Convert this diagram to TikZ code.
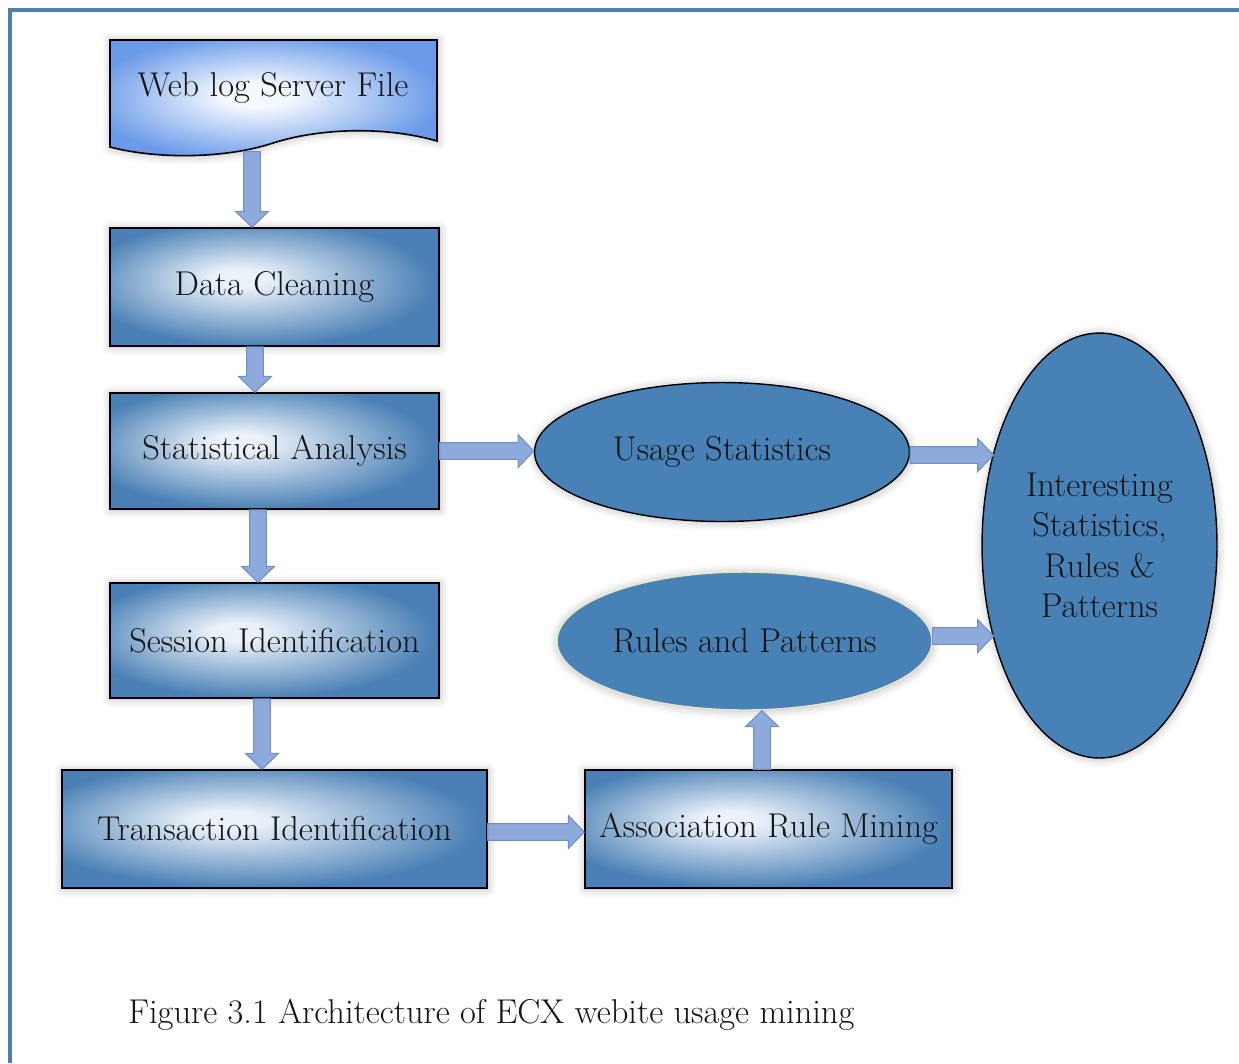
\documentclass[tikz,border=0pt]{standalone}
\usetikzlibrary{shapes.geometric,calc,shadows.blur}
\definecolor{framec}{HTML}{4F7DB0}
\definecolor{boxout}{HTML}{4A80B5}
\definecolor{boxin}{HTML}{EAF1F9}
\definecolor{docout}{HTML}{6A9AE8}
\definecolor{docin}{HTML}{F4F8FF}
\definecolor{ellc}{HTML}{4781B6}
\definecolor{arrfill}{HTML}{8EAADC}
\definecolor{arrdraw}{HTML}{6F8FC6}
\definecolor{rpborder}{HTML}{E6E6C8}
\definecolor{txtc}{HTML}{151515}
\pgfdeclareradialshading{boxsh}{\pgfpoint{-6bp}{4bp}}{color(0bp)=(boxin); color(4bp)=(boxin); color(27bp)=(boxout); color(50bp)=(boxout)}
\pgfdeclareradialshading{docsh}{\pgfpoint{-3bp}{2bp}}{color(0bp)=(docin); color(5bp)=(docin); color(27bp)=(docout); color(50bp)=(docout)}
\newcommand\blockarrow[2]{%
  \path #1 coordinate (ba1) #2 coordinate (ba2);
  \filldraw[barrow] let \p1=($(ba2)-(ba1)$), \n1={atan2(\y1,\x1)}, \n2={veclen(\x1,\y1)} in
    [shift={(ba1)}, rotate=\n1]
    (0pt,-4.8pt) -- ({\n2-9pt},-4.8pt) -- ({\n2-9pt},-9.4pt) -- ({\n2+0pt},0pt)
    -- ({\n2-9pt},9.4pt) -- ({\n2-9pt},4.8pt) -- (0pt,4.8pt) -- cycle;}
\tikzset{
  txt/.style={font=\fontsize{19.6}{23}\selectfont, text=txtc},
  shadowed/.style={blur shadow={shadow xshift=0.4pt, shadow yshift=-0.4pt, shadow blur radius=5pt, shadow opacity=30}},
  boxnode/.style={txt, rectangle, draw=black, line width=0.9pt, shade, shading=boxsh, inner sep=0pt, shadowed},
  ellnode/.style={txt, ellipse, fill=ellc, draw=black, line width=0.8pt, inner sep=0pt, shadowed},
  barrow/.style={fill=arrfill, draw=arrdraw, line width=0.6pt, line join=miter},
  framestyle/.style={draw=framec, line width=1.8pt}
}
\begin{document}
\begin{tikzpicture}[x=0.02cm, y=-0.02cm]
\useasboundingbox (0,0) rectangle (1239,1063);
\draw[framestyle] (10,1063) -- (10,10) -- (1239,10);

% document shape
\node[inner sep=0pt, minimum width=6.54cm, minimum height=2.30cm] (web) at (273.5,97.5) {};
\shadedraw[shading=docsh, draw=black, line width=0.9pt, shadowed]
  (110,40) -- (437,40) -- (437,141)
  .. controls (385,126) and (320,128) .. (273,143)
  .. controls (228,158) and (160,160) .. (110,147) -- cycle;
\node[txt] (webt) at (273,88) {Web log Server File};

\node[boxnode, minimum width=6.58cm, minimum height=2.36cm] (dc) at (274.5,287) {Data Cleaning};
\node[boxnode, minimum width=6.58cm, minimum height=2.32cm] (sa) at (274.5,451) {Statistical Analysis};
\node[boxnode, minimum width=6.58cm, minimum height=2.30cm] (si) at (274.5,640.5) {Session Identification};
\node[boxnode, minimum width=8.50cm, minimum height=2.36cm] (ti) at (274.5,829) {Transaction Identification};
\node[boxnode, minimum width=7.34cm, minimum height=2.36cm] (arm) at (768.5,829) {Association Rule Mining};

\node[ellnode, minimum width=7.50cm, minimum height=2.78cm] (us) at (722,452) {Usage Statistics};
\node[ellnode, draw=rpborder, minimum width=7.50cm, minimum height=2.76cm] (rp) at (744.5,641) {Rules and Patterns};
\node[ellnode, align=center, minimum width=4.70cm, minimum height=8.50cm] (isr) at (1099.5,545.5)
  {Interesting\\Statistics,\\Rules \&\\Patterns};

% connectors
\blockarrow{($(web.south)+(-21.5,-4)$)}{($(dc.north)+(-22.5,0)$)}
\blockarrow{($(dc.south)+(-19.5,0)$)}{($(sa.north)+(-19.5,0)$)}
\blockarrow{($(sa.south)+(-16.5,0)$)}{($(si.north)+(-16.5,0)$)}
\blockarrow{($(si.south)+(-12.5,0)$)}{($(ti.north)+(-12.5,0)$)}
\blockarrow{($(ti.east)+(0,3)$)}{($(arm.west)+(0,3)$)}
\blockarrow{(sa.east)}{(sa.east -| us.west)}
\blockarrow{($(us.east)+(0,3)$)}{($(isr.center)+(-106,-90.5)$)}
\blockarrow{($(rp.east)+(0,-5)$)}{($(isr.center)+(-106,90.5)$)}
\blockarrow{($(arm.north)+(-6.5,0)$)}{($(rp.south)+(17.5,0)$)}

\node[txt, anchor=west, inner sep=0pt] (cap) at (128,1015) {Figure 3.1 Architecture of ECX webite usage mining};
\end{tikzpicture}
\end{document}
